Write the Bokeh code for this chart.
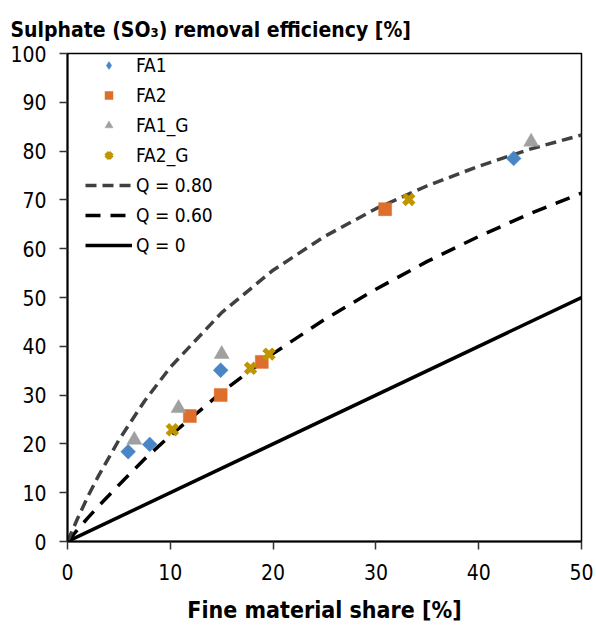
import math
from bokeh.plotting import figure
from bokeh.models import Legend, LegendItem, FixedTicker, Range1d
from bokeh.embed import file_html
from bokeh.resources import INLINE

# ---- data ----
fa1_x = [5.9, 8.0, 14.9, 43.4]
fa1_y = [18.4, 19.9, 35.1, 78.5]
fa2_x = [11.9, 14.9, 18.9, 30.9]
fa2_y = [25.7, 30.0, 36.8, 68.1]
fa1g_x = [6.5, 10.8, 15.0, 45.1]
fa1g_y = [20.8, 27.3, 38.4, 81.9]
fa2g_x = [10.2, 17.8, 19.6, 33.2]
fa2g_y = [22.9, 35.5, 38.4, 70.1]

curve_x = [0, 1, 2, 3, 5, 7.5, 10, 15, 20, 25, 30, 35, 40, 45, 50]
q080_y = [0, 4.8, 9.3, 13.4, 20.8, 28.8, 35.7, 46.9, 55.6, 62.5, 68.2, 72.9, 76.9, 80.4, 83.3]
q060_y = [0, 2.5, 4.9, 7.2, 11.6, 16.9, 21.7, 30.6, 38.5, 45.5, 51.7, 57.4, 62.5, 67.2, 71.4]
q0_x = [0, 50]
q0_y = [0, 50]

x_ticks = [0, 10, 20, 30, 40, 50]
y_ticks = [0, 10, 20, 30, 40, 50, 60, 70, 80, 90, 100]

FONT = "DejaVu Sans Condensed"
BLUE = "#4A86C5"
ORANGE = "#DD6E2C"
GREY = "#A0A0A0"
GOLD = "#C09600"

p = figure(width=596, height=625, output_backend="svg", toolbar_location=None,
           x_range=Range1d(0, 50), y_range=Range1d(0, 100),
           min_border_left=67, min_border_right=15, min_border_top=53, min_border_bottom=76)

p.title.text = "Sulphate (SO\u2083) removal efficiency [%]"
p.title.text_font = FONT
p.title.text_font_size = "21px"
p.title.text_font_style = "bold"
p.title.align = "left"
p.title.offset = -57
p.title.standoff = 24
p.title.text_line_height = 0.8
p.title.text_color = "black"

p.xgrid.visible = False
p.ygrid.visible = False
p.outline_line_color = "black"
p.outline_line_width = 1.5
p.background_fill_color = "white"
p.border_fill_color = "white"

for ax in (p.xaxis[0], p.yaxis[0]):
    ax.axis_line_color = "black"
    ax.axis_line_width = 2
    ax.major_tick_line_color = "#333333"
    ax.major_tick_line_width = 1.5
    ax.major_tick_out = 8
    ax.major_tick_in = 0
    ax.minor_tick_line_color = None
    ax.major_label_text_font = FONT
    ax.major_label_text_font_size = "21px"
    ax.major_label_text_color = "black"

p.xaxis[0].ticker = FixedTicker(ticks=x_ticks)
p.yaxis[0].ticker = FixedTicker(ticks=y_ticks)
p.xaxis[0].major_label_standoff = 14
p.yaxis[0].major_label_standoff = 13
p.xaxis[0].axis_label = "Fine material share [%]"
p.xaxis[0].axis_label_text_font = FONT
p.xaxis[0].axis_label_text_font_size = "23px"
p.xaxis[0].axis_label_text_font_style = "bold"
p.xaxis[0].axis_label_text_color = "black"
p.xaxis[0].axis_label_standoff = 14

r_q0 = p.line(q0_x, q0_y, line_color="black", line_width=3.5)
r_q06 = p.line(curve_x, q060_y, line_color="black", line_width=3.5, line_dash="15 10")
r_q08 = p.line(curve_x, q080_y, line_color="#404040", line_width=3.5, line_dash="11 6")

r_fa1 = p.scatter(fa1_x, fa1_y, marker="square", angle=math.pi / 4, size=10.5,
                  fill_color=BLUE, line_color=BLUE, line_width=0.5)
# hidden twin used only for the legend swatch (legend swatches ignore angle)
r_fa1_leg = p.scatter(fa1_x, fa1_y, marker="diamond", size=14, visible=False,
                      fill_color=BLUE, line_color=BLUE, line_width=0.5)
r_fa2 = p.scatter(fa2_x, fa2_y, marker="square", size=13, fill_color=ORANGE,
                  line_color=ORANGE, line_width=0.5)
r_fa1g = p.scatter(fa1g_x, fa1g_y, marker="triangle", size=15, fill_color=GREY,
                   line_color=GREY, line_width=0.5)
r_fa2g = p.scatter(fa2g_x, fa2g_y, marker="x", size=14, line_color=GOLD, line_width=5)

legend = Legend(items=[
    LegendItem(label="FA1", renderers=[r_fa1_leg]),
    LegendItem(label="FA2", renderers=[r_fa2]),
    LegendItem(label="FA1_G", renderers=[r_fa1g]),
    LegendItem(label="FA2_G", renderers=[r_fa2g]),
    LegendItem(label="Q = 0.80", renderers=[r_q08]),
    LegendItem(label="Q = 0.60", renderers=[r_q06]),
    LegendItem(label="Q = 0", renderers=[r_q0]),
], location=(18, 285))
legend.border_line_color = None
legend.background_fill_alpha = 0
legend.inactive_fill_alpha = 0
legend.padding = 0
legend.margin = 0
legend.spacing = 8
legend.glyph_height = 20
legend.label_height = 20
legend.glyph_width = 47
legend.label_standoff = 4
legend.label_text_font = FONT
legend.label_text_font_size = "19px"
legend.label_text_color = "black"
p.add_layout(legend, "center")

open("out.html", "w").write(file_html(p, INLINE))
